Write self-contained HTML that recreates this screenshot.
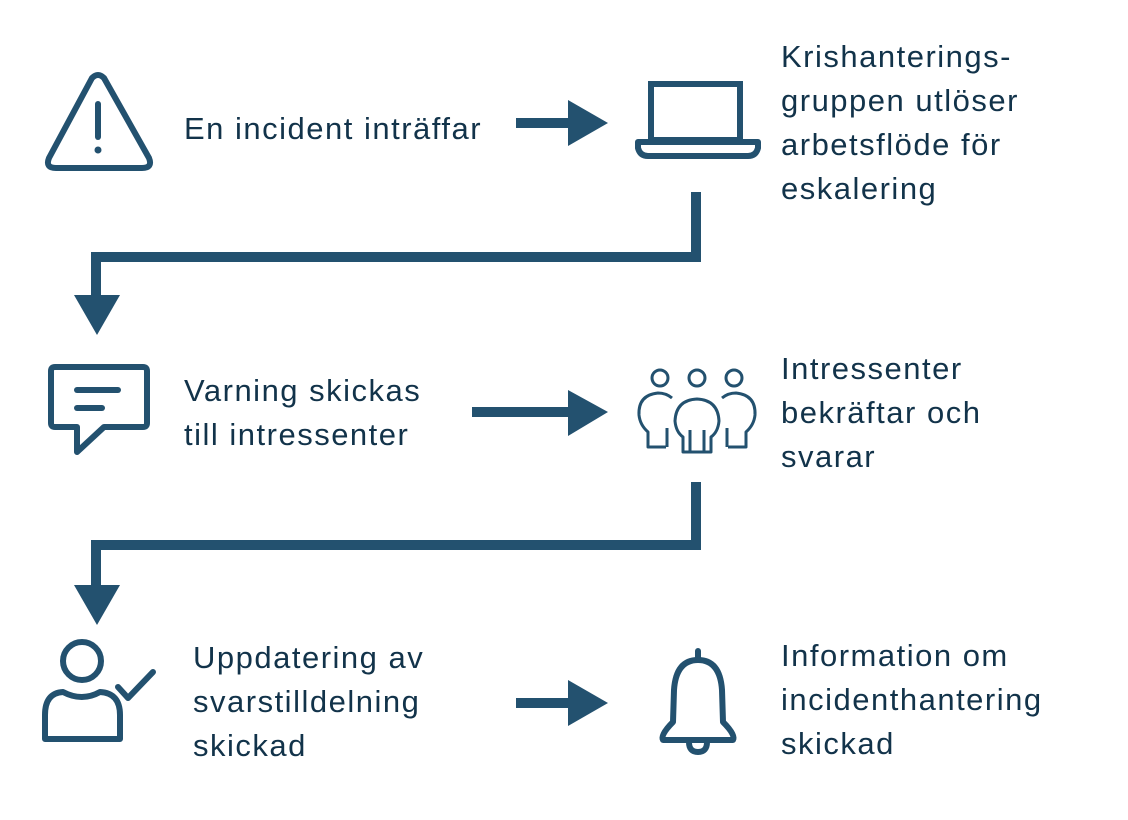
<!DOCTYPE html>
<html><head><meta charset="utf-8"><style>
html,body{margin:0;padding:0;background:#fff;}
svg{display:block}
text{font-family:"Liberation Sans",sans-serif;font-size:31px;fill:#12334a;letter-spacing:1.5px}
</style></head><body>
<svg width="1128" height="820" viewBox="0 0 1128 820" xmlns="http://www.w3.org/2000/svg">
<g fill="none" stroke="#23516f" stroke-width="6" stroke-linejoin="round" stroke-linecap="round">
  <path d="M92 78 Q98 72 104 78 L149 158 Q153 168 142 168 L56 168 Q45 168 49 158 Z"/>
  <line x1="98" y1="104" x2="98" y2="137"/>
  <rect x="651" y="84" width="89" height="56" stroke-linejoin="miter"/>
  <path d="M638 142 L758 142 L758 148 Q756 156 748 156 L648 156 Q640 156 638 148 Z"/>
  <path d="M55 367 L143 367 Q147 367 147 371 L147 423 Q147 427 143 427 L104 427 L77 452 L77 427 L55 427 Q51 427 51 423 L51 371 Q51 367 55 367 Z"/>
  <line x1="77" y1="390" x2="118" y2="390"/>
  <line x1="77" y1="408" x2="102" y2="408"/>
  <circle cx="82" cy="661" r="19"/>
  <path d="M45 739 L45 715 Q45 693 63 692 Q82 702 100 692 Q120 693 120 715 L120 739 Z"/>
  <path d="M118 687 L128 698 L153 672"/>
  <line x1="698" y1="651" x2="698" y2="660"/>
  <path d="M698 660 Q676 660 674 690 L673 722 Q660 735 663 740 L733 740 Q736 735 723 722 L722 690 Q720 660 698 660 Z"/>
  <path d="M689 742 Q689 752 698 752 Q707 752 707 742"/>
</g>
<g fill="none" stroke="#23516f" stroke-width="3" stroke-linejoin="round">
  <circle cx="660" cy="378" r="8"/>
  <circle cx="697" cy="378" r="8"/>
  <circle cx="734" cy="378" r="8"/>
  <path d="M672 398 Q666 393 658 393 Q638 395 639 415 Q640 425 648 432 L648 447 L666 447"/>
  <path d="M722 398 Q728 393 736 393 Q756 395 755 415 Q754 425 746 432 L746 447 L728 447"/>
  <path d="M697 399 Q676 400 675 421 Q676 432 683 437 L683 452 L711 452 L711 437 Q718 432 719 421 Q718 400 697 399 Z"/>
  <line x1="667" y1="428" x2="667" y2="447"/><line x1="727" y1="428" x2="727" y2="447"/>
  <line x1="690" y1="430" x2="690" y2="452"/><line x1="704" y1="430" x2="704" y2="452"/>
</g>
<g fill="#23516f">
  <circle cx="98" cy="150" r="3.5"/>
  <rect x="516" y="118" width="54" height="10"/><polygon points="568,100 608,123 568,146"/>
  <rect x="472" y="407" width="98" height="10"/><polygon points="568,390 608,412 568,436"/>
  <rect x="516" y="698" width="54" height="10"/><polygon points="568,680 608,703 568,726"/>
</g>
<g fill="none" stroke="#23516f" stroke-width="10">
  <polyline points="696,192 696,257 96,257 96,298"/>
  <polyline points="696,482 696,545 96,545 96,588"/>
</g>
<g fill="#23516f">
  <polygon points="74,295 120,295 97,335"/>
  <polygon points="74,585 120,585 97,625"/>
</g>
<text x="184" y="139">En incident inträffar</text>
<text x="781" y="67">Krishanterings-</text>
<text x="781" y="111">gruppen utlöser</text>
<text x="781" y="155">arbetsflöde för</text>
<text x="781" y="199">eskalering</text>
<text x="184" y="401">Varning skickas</text>
<text x="184" y="445">till intressenter</text>
<text x="781" y="379">Intressenter</text>
<text x="781" y="423">bekräftar och</text>
<text x="781" y="467">svarar</text>
<text x="193" y="668">Uppdatering av</text>
<text x="193" y="712">svarstilldelning</text>
<text x="193" y="756">skickad</text>
<text x="781" y="666">Information om</text>
<text x="781" y="710">incidenthantering</text>
<text x="781" y="754">skickad</text>
</svg>
</body></html>
